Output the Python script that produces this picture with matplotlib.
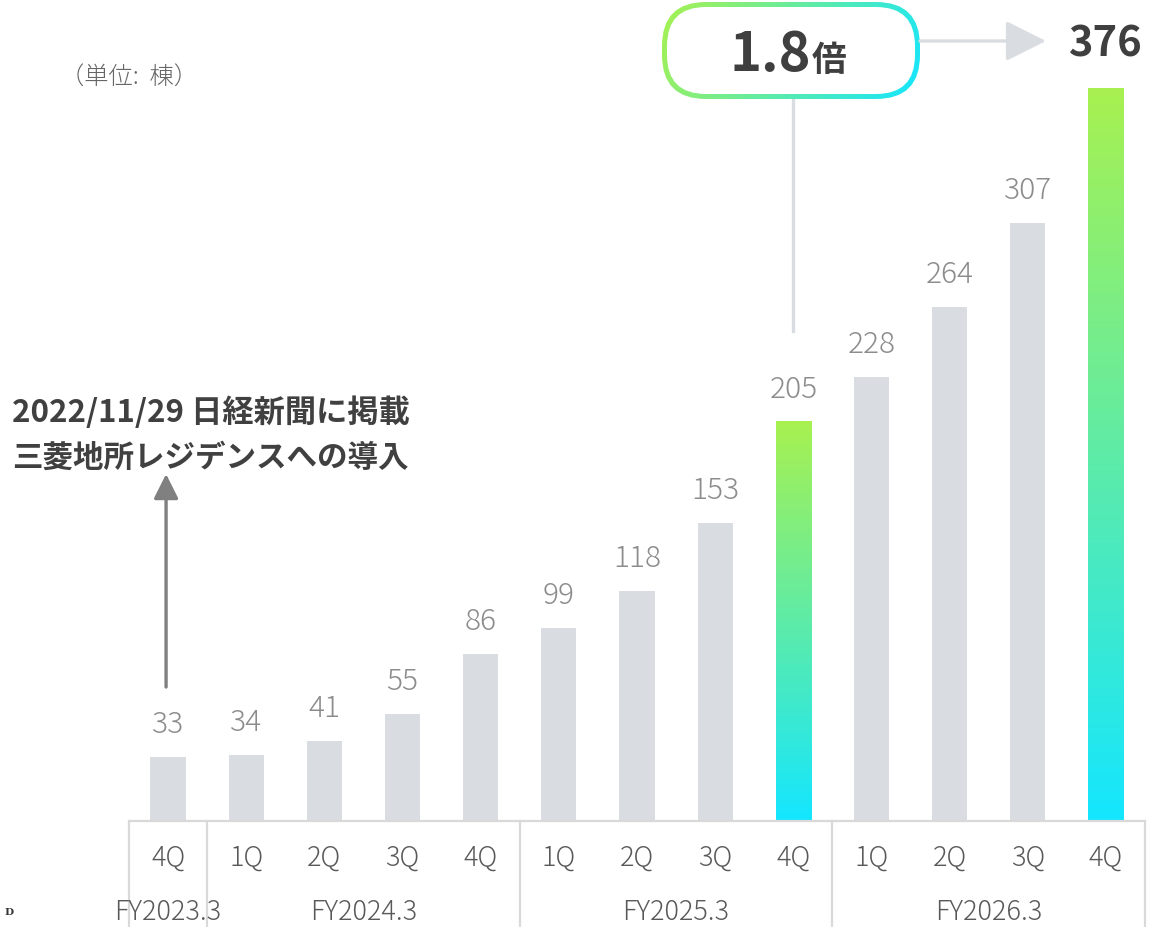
import numpy as np
import matplotlib
matplotlib.use('Agg')
import matplotlib.pyplot as plt
from matplotlib.patches import FancyBboxPatch
from matplotlib.colors import LinearSegmentedColormap
import matplotlib.transforms as mtransforms

plt.rcParams['font.family'] = ['Noto Sans CJK JP', 'DejaVu Sans']

# ---- data ----
quarters = ['4Q', '1Q', '2Q', '3Q', '4Q', '1Q', '2Q', '3Q', '4Q', '1Q', '2Q', '3Q', '4Q']
values = [33, 34, 41, 55, 86, 99, 118, 153, 205, 228, 264, 307, 376]
fiscal_years = ['FY2023.3', 'FY2024.3', 'FY2025.3', 'FY2026.3']
fy_counts = [1, 4, 4, 4]
highlight = [8, 12]
multiplier_label = '1.8'
multiplier_unit = '倍'
unit_label = '（単位:  棟）'
note_lines = ['2022/11/29 日経新聞に掲載', '三菱地所レジデンスへの導入']

# ---- style ----
W, H = 1169, 928
gray_bar = '#d9dce0'
line_gray = '#d9d9d9'
green = '#a8f150'
cyan = '#14e6ff'
val_color = '#8c8c8c'
lab_color = '#595959'
dark = '#3f3f3f'

fig = plt.figure(figsize=(W / 100, H / 100), dpi=100)
ax_bottom_px = 106
ax_h_px = 779
ax = fig.add_axes([129 / W, ax_bottom_px / H, 1016 / W, ax_h_px / H])
ax.axis('off')

n = len(values)
bw = 0.45
cmap_v = LinearSegmentedColormap.from_list('gv', [cyan, green])
grad_v = np.linspace(0, 1, 256).reshape(-1, 1)

for i, v in enumerate(values):
    if i in highlight:
        ax.imshow(grad_v, cmap=cmap_v, origin='lower', aspect='auto',
                  extent=(i - bw / 2, i + bw / 2, 0, v), zorder=2)
    else:
        ax.bar(i, v, width=bw, color=gray_bar, zorder=2)

ax.set_xlim(-0.5, n - 0.5)
ax.set_ylim(0, 400)

# value labels
for i, v in enumerate(values):
    if i == n - 1:
        ax.annotate(str(v), (i, v), xytext=(0, 33), textcoords='offset pixels',
                    ha='center', va='baseline', fontsize=30, fontweight='bold',
                    color=dark, annotation_clip=False)
    else:
        ax.annotate(str(v), (i, v), xytext=(0, 25), textcoords='offset pixels',
                    ha='center', va='baseline', fontsize=21.5, fontweight='light',
                    color=val_color, annotation_clip=False)

# category axis
trans = mtransforms.blended_transform_factory(ax.transData, ax.transAxes)
bottom_ax = -ax_bottom_px / ax_h_px
ax.plot([-0.5, n - 0.5], [0, 0], transform=trans, color=line_gray, lw=1.6,
        clip_on=False, zorder=3)
bounds = np.concatenate([[0], np.cumsum(fy_counts)]) - 0.5
for b in bounds:
    ax.plot([b, b], [0, bottom_ax], transform=trans, color=line_gray, lw=1.6,
            clip_on=False)
for i, q in enumerate(quarters):
    ax.text(i, -36 / ax_h_px, q, transform=trans, ha='center', va='center',
            fontsize=19.5, fontweight='light', color=lab_color)
for k, fy in enumerate(fiscal_years):
    c = (bounds[k] + bounds[k + 1]) / 2
    ax.text(c, -90 / ax_h_px, fy, transform=trans, ha='center', va='center',
            fontsize=19.5, fontweight='light', color=lab_color)

# ---- overlay in pixel coords for annotations ----
ov = fig.add_axes([0, 0, 1, 1], zorder=5)
ov.set_facecolor('none')


def px(xd, yd):
    X, Y = ax.transData.transform((xd, yd))
    return X, H - Y


# unit label
ov.text(60, 78, unit_label, ha='left', va='center', fontsize=17.5,
        fontweight='light', color='#666666')

# note text + arrow
ov.text(12, 413, note_lines[0], ha='left', va='center', fontsize=22.5,
        fontweight='bold', color='#404040')
ov.text(12, 458, note_lines[1], ha='left', va='center', fontsize=22,
        fontweight='bold', color='#404040')
ax0x, _ = px(0, values[0])
ov.annotate('', xy=(ax0x - 2, 475), xytext=(ax0x - 2, 688),
            arrowprops=dict(arrowstyle='-|>,head_length=0.6,head_width=0.3',
                            color='#808080', lw=2.4, mutation_scale=25,
                            shrinkA=0, shrinkB=0))

# gradient pill box
bx0, bx1, by0, by1 = 662, 920, 3, 100
rad = 44
outer = FancyBboxPatch((bx0, by0), bx1 - bx0, by1 - by0,
                       boxstyle=f'round,pad=0,rounding_size={rad}',
                       facecolor='none', edgecolor='none')
ov.add_patch(outer)
gx = np.linspace(0, 1, 300)
gy = np.linspace(0, 1, 100)
GX, GY = np.meshgrid(gx, gy)
G = np.clip(0.85 * GX + 0.15 * GY, 0, 1)
cmap_h = LinearSegmentedColormap.from_list('gh', [green, cyan])
im = ov.imshow(G, cmap=cmap_h, origin='upper', aspect='auto',
               extent=(bx0, bx1, by1, by0), zorder=1)
im.set_clip_path(outer)
bd = 5
inner = FancyBboxPatch((bx0 + bd, by0 + bd), bx1 - bx0 - 2 * bd, by1 - by0 - 2 * bd,
                       boxstyle=f'round,pad=0,rounding_size={rad - bd}',
                       facecolor='white', edgecolor='none', zorder=2)
ov.add_patch(inner)
ov.text(811, 71, multiplier_label, ha='right', va='baseline', fontsize=39,
        fontweight='bold', color=dark, zorder=3)
ov.text(812, 71, multiplier_unit, ha='left', va='baseline', fontsize=25,
        fontweight='bold', color=dark, zorder=3)

# connector from bar 205 to box
cx, _ = px(highlight[0], values[highlight[0]])
ov.plot([cx, cx], [by1, 332], color=gray_bar, lw=2.4, zorder=0)
# arrow from box to 376
ov.annotate('', xy=(1046, 42), xytext=(bx1, 42),
            arrowprops=dict(arrowstyle='-|>,head_length=1.0,head_width=0.5',
                            color=gray_bar, lw=2.4, mutation_scale=25,
                            shrinkA=0, shrinkB=0))

ov.text(4, 913, 'D', ha='left', va='center', fontsize=7.5, fontweight='bold',
        family='DejaVu Serif', color='#333333')

ov.set_xlim(0, W)
ov.set_ylim(H, 0)
ov.axis('off')

fig.savefig('out.png', dpi=100)
